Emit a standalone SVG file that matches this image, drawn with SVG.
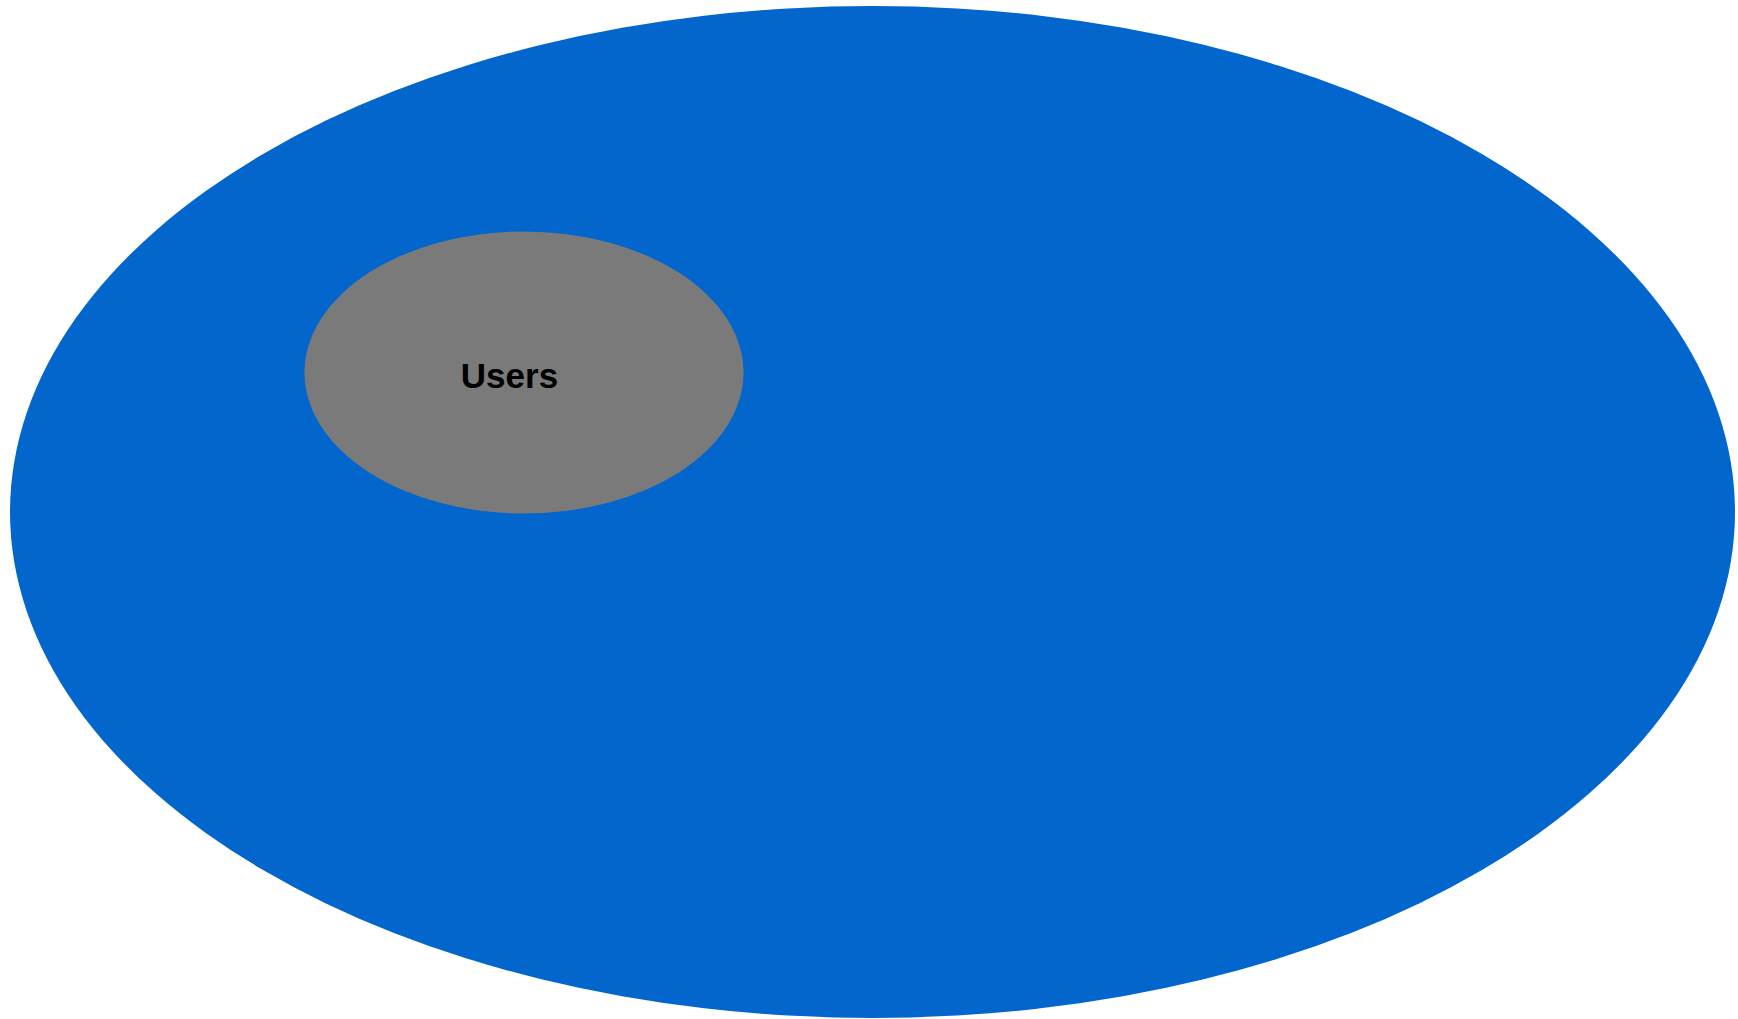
<svg xmlns="http://www.w3.org/2000/svg" width="1738" height="1019" viewBox="0 0 1738 1019">
<style>
.lbl{font-family:"Liberation Sans",Arial,sans-serif;font-weight:bold;font-size:35px;fill:#000;text-anchor:middle}
</style>
<rect width="1738" height="1019" fill="#ffffff"/>
<g id="outer">
<ellipse cx="872.5" cy="512" rx="862.5" ry="506" fill="#0366CC"/>
</g>
<g id="users">
<ellipse cx="524" cy="372.5" rx="219.5" ry="141" fill="#7A7A7A"/>
<text class="lbl" x="509.5" y="388">Users</text>
</g>
<g id="connectors"/>
</svg>
